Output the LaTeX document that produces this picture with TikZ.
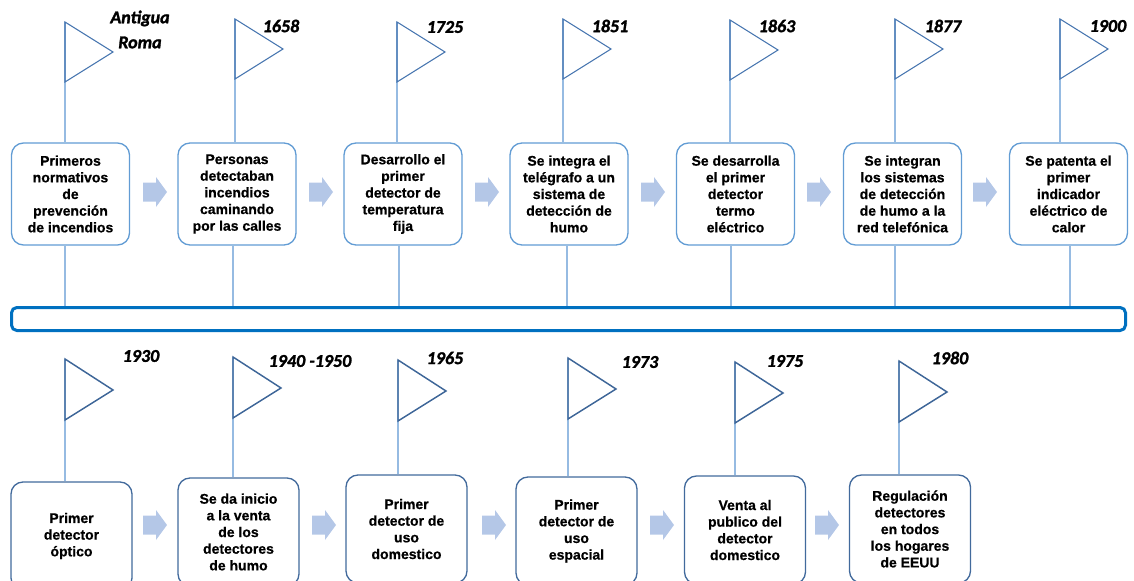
\documentclass[tikz,border=0pt]{standalone}
\usepackage{fontspec}
\newfontfamily\boxfont{Liberation Sans}[BoldFont={Liberation Sans Bold}, BoldFeatures={FakeBold=0.6}]
\newfontfamily\yearfont{Carlito}[BoldItalicFont={Carlito Bold Italic}, BoldItalicFeatures={FakeBold=1.6}]
\definecolor{polec}{RGB}{150,187,226}
\definecolor{flagc}{RGB}{72,118,176}
\definecolor{flagdark}{RGB}{62,102,152}
\definecolor{topedge}{RGB}{98,156,212}
\definecolor{botedge}{RGB}{66,106,156}
\definecolor{barc}{RGB}{0,112,192}
\definecolor{arrowc}{RGB}{180,199,231}
\tikzset{
  polestyle/.style={draw=polec, line width=0.8pt},
  flagtop/.pic={\draw[draw=flagc, line width=0.8pt, line join=miter] (0,0) -- (48,30) -- (0,60) -- cycle;},
  flagbot/.pic={\draw[draw=flagdark, line width=1.1pt, line join=miter] (0,0) -- (48,31) -- (0,61) -- cycle;},
  blockarrow/.pic={\fill[arrowc] (0,-9.5) -- (13,-9.5) -- (13,-15) -- (24,0) -- (13,15) -- (13,9.5) -- (0,9.5) -- cycle;},
  topbox/.style={draw=topedge, line width=1pt, fill=white, rounded corners=9pt,
    minimum width=88.5pt, minimum height=76.5pt, inner sep=0pt, align=center,
    font=\boxfont\bfseries\fontsize{10.5}{12.5}\selectfont},
  botbox/.style={topbox, draw=botedge, minimum width=90.75pt, minimum height=81pt},
  barbox/.style={draw=barc, line width=2.25pt, rounded corners=4pt, minimum width=835.5pt,
    minimum height=17.25pt, inner sep=0pt},
  year/.style={font=\yearfont\bfseries\itshape\fontsize{13.5}{18.75}\selectfont, align=center, inner sep=0pt}
}
\begin{document}
\begin{tikzpicture}[x=0.75pt,y=-0.75pt]
\useasboundingbox (0,0) rectangle (1134,581);
\clip (0,0) rectangle (1134,581);

% timeline bar
\node[barbox] (bar) at (568.5,319) {};

% flag tops, upper row
\coordinate (f1) at (65,22);
\coordinate (f2) at (235,19);
\coordinate (f3) at (397,22);
\coordinate (f4) at (563,19);
\coordinate (f5) at (730,20);
\coordinate (f6) at (895,19);
\coordinate (f7) at (1060,19);
% feet of the connectors on the bar
\coordinate (b1) at (65,319);
\coordinate (b2) at (233,319);
\coordinate (b3) at (399,319);
\coordinate (b4) at (567,319);
\coordinate (b5) at (731,319);
\coordinate (b6) at (895,319);
\coordinate (b7) at (1070,319);
% flag tops, lower row
\coordinate (g1) at (65,359);
\coordinate (g2) at (233,357);
\coordinate (g3) at (398,360);
\coordinate (g4) at (568,358);
\coordinate (g5) at (735,362);
\coordinate (g6) at (899,361);

% upper row events
\node[topbox] (t1) at (70.5,194) {Primeros\\normativos\\de\\prevención\\de incendios};
\node[topbox] (t2) at (237,194) {Personas\\detectaban\\incendios\\caminando\\por las calles};
\node[topbox] (t3) at (403,194) {Desarrollo el\\primer\\detector de\\temperatura\\fija};
\node[topbox] (t4) at (569,194) {Se integra el\\telégrafo a un\\sistema de\\detección de\\humo};
\node[topbox] (t5) at (735.5,194) {Se desarrolla\\el primer\\detector\\termo\\eléctrico};
\node[topbox] (t6) at (902.5,194) {Se integran\\los sistemas\\de detección\\de humo a la\\red telefónica};
\node[topbox] (t7) at (1068.5,194) {Se patenta el\\primer\\indicador\\eléctrico de\\calor};

% lower row events
\node[botbox] (u1) at (71.5,536) {Primer\\detector\\óptico};
\node[botbox] (u2) at (238.5,532) {Se da inicio\\a la venta\\de los\\detectores\\de humo};
\node[botbox] (u3) at (406.5,529) {Primer\\detector de\\uso\\domestico};
\node[botbox] (u4) at (576.5,531) {Primer\\detector de\\uso\\espacial};
\node[botbox] (u5) at (745,530) {Venta al\\publico del\\detector\\domestico};
\node[botbox] (u6) at (910,529) {Regulación\\detectores\\en todos\\los hogares\\de EEUU};

% poles and connectors, upper row
\foreach \i in {1,...,7}{
  \draw[polestyle] (f\i) -- (f\i |- t\i.north);
  \draw[polestyle] (t\i.south -| b\i) -- (b\i |- bar.north);
}
% poles, lower row
\foreach \i in {1,...,6}{
  \draw[polestyle] (g\i) -- (g\i |- u\i.north);
}

% flags
\foreach \i in {1,...,7}{ \pic at (f\i) {flagtop}; }
\foreach \i in {1,...,6}{ \pic at (g\i) {flagbot}; }

% block arrows between events
\foreach \x in {143,309,475,641,807,973}{ \pic at (\x,192) {blockarrow}; }
\foreach \x in {143,312,482,650,815}{ \pic at (\x,525) {blockarrow}; }

% dates
\node[year] (y1) at (140,29.5) {Antigua\\Roma};
\node[year] (y2) at (281,26) {1658};
\node[year] (y3) at (445,27) {1725};
\node[year] (y4) at (610,26) {1851};
\node[year] (y5) at (777,26) {1863};
\node[year] (y6) at (943,26) {1877};
\node[year] (y7) at (1108,26) {1900};
\node[year] (z1) at (141,356) {1930};
\node[year] (z2) at (310,361) {1940 -1950};
\node[year] (z3) at (445,358) {1965};
\node[year] (z4) at (640,362) {1973};
\node[year] (z5) at (785,361) {1975};
\node[year] (z6) at (950,358) {1980};
\end{tikzpicture}
\end{document}
